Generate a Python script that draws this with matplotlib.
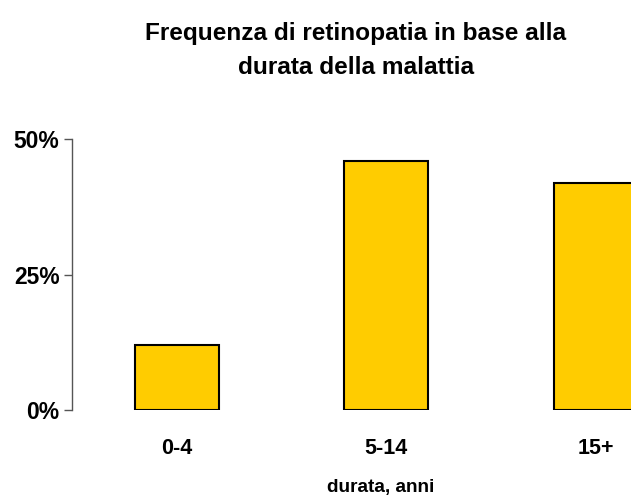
import matplotlib
matplotlib.use("Agg")
import matplotlib.pyplot as plt

# frequency of retinopathy by disease duration
categories = ["0-4", "5-14", "15+"]
values = [12, 46, 42]
yticks = [0, 25, 50]

plt.rcParams['font.family'] = ['Liberation Sans', 'DejaVu Sans']
plt.rcParams['font.weight'] = 'bold'

fig = plt.figure(figsize=(6.31, 4.98), dpi=100)
ax = fig.add_axes([0.114, 0.1767, 0.886, 0.5433])

x = range(len(categories))
ax.bar(x, values, width=0.4, color="#FFCC00", edgecolor="black", linewidth=1.5)

ax.set_xlim(-0.5, 2.17)
ax.set_ylim(0, 50)
ax.set_yticks(yticks)
ax.set_yticklabels([f"{v}%" for v in yticks], fontsize=16.5, fontweight="bold")
ax.set_xticks(list(x))
ax.set_xticklabels(categories, fontsize=15.5, fontweight="bold")
ax.tick_params(axis="x", length=0, pad=20)
ax.tick_params(axis="y", length=6, width=1, color="#555555", pad=3)

for s in ["top", "right", "bottom"]:
    ax.spines[s].set_visible(False)
ax.spines["left"].set_color("#555555")
ax.spines["left"].set_linewidth(1)

# x label sits under the middle bar, not the axis centre
fig.text(0.604, 0.004, "durata, anni", ha="center", va="bottom",
         fontsize=13.7, fontweight="bold")
fig.text(0.564, 0.955, "Frequenza di retinopatia in base alla\ndurata della malattia",
         ha="center", va="top", fontsize=17.6, fontweight="bold", linespacing=1.6)

fig.savefig("out.png", dpi=100)
